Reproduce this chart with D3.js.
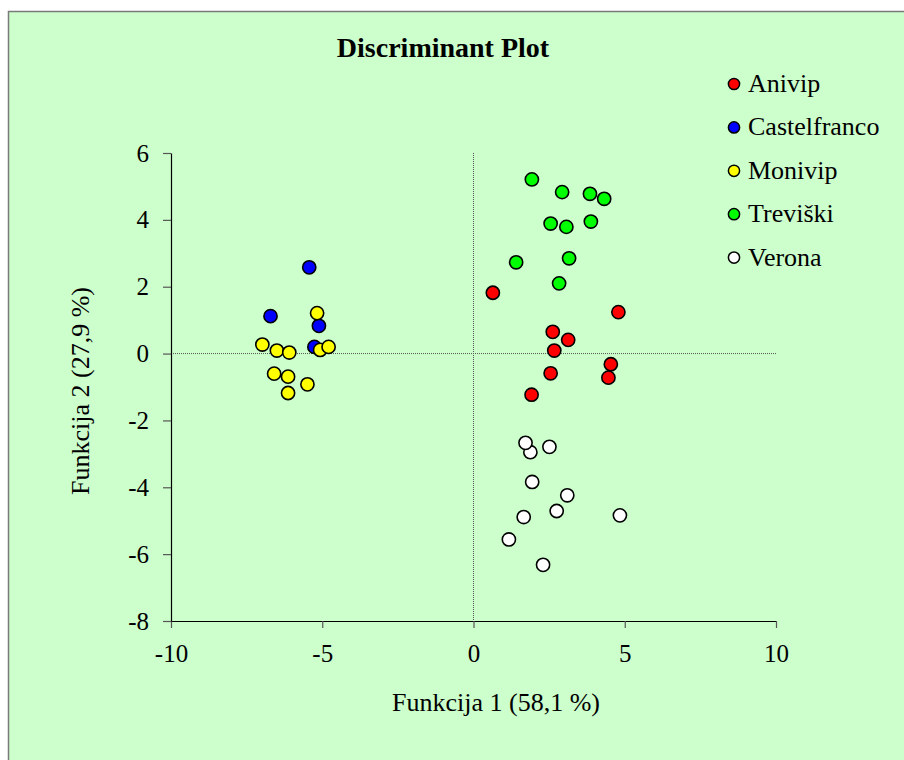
<!DOCTYPE html>
<html>
<head>
<meta charset="utf-8">
<script src="https://cdn.jsdelivr.net/npm/d3@7"></script>
<style>
  body { margin: 0; background: #fff; }
  svg text { font-family: "Liberation Serif", "Times New Roman", serif; fill: #000; }
</style>
</head>
<body>
<div id="chart"></div>
<script>
// discriminant scores, one array per group
var anivip = [[0.64, 1.82], [4.79, 1.24], [2.62, 0.65], [3.13, 0.41], [2.67, 0.09],
              [4.54, -0.32], [2.55, -0.59], [4.46, -0.72], [1.92, -1.23]];
var castelfranco = [[-5.43, 2.58], [-6.71, 1.12], [-5.11, 0.83], [-5.26, 0.20]];
var monivip = [[-5.17, 1.21], [-6.98, 0.27], [-6.50, 0.09], [-6.09, 0.03], [-5.07, 0.11],
               [-4.79, 0.20], [-6.59, -0.60], [-6.13, -0.69], [-5.49, -0.92], [-6.13, -1.18]];
var treviski = [[1.93, 5.21], [2.93, 4.83], [3.85, 4.78], [4.32, 4.63], [2.55, 3.89],
                [3.07, 3.79], [3.88, 3.95], [1.41, 2.73], [3.16, 2.85], [2.83, 2.10]];
var verona = [[1.88, -2.95], [1.72, -2.67], [2.51, -2.79], [1.94, -3.84], [3.10, -4.24],
              [2.75, -4.71], [1.66, -4.89], [4.84, -4.84], [1.17, -5.56], [2.30, -6.32]];

var groupNames = ['Anivip', 'Castelfranco', 'Monivip', 'Treviški', 'Verona'];
var groupColors = ['#ff0000', '#0000ff', '#ffff00', '#00ff00', '#ffffff'];
var groupData = [anivip, castelfranco, monivip, treviski, verona];

var xTicks = [-10, -5, 0, 5, 10];
var yTicks = [-8, -6, -4, -2, 0, 2, 4, 6];

var width = 904, height = 760;

var svg = d3.select('#chart')
            .append('svg')
            .attr('width', width)
            .attr('height', height);

// chart area frame
svg.append('rect')
    .attr('x', 8.5)
    .attr('y', 11.5)
    .attr('width', width)
    .attr('height', height)
    .style('fill', '#ccffcc')
    .style('stroke', '#7a7a7a')
    .style('stroke-width', 1.5);

var x = d3.scaleLinear().domain([-10, 10]).range([171, 776]);
var y = d3.scaleLinear().domain([-8, 6]).range([621, 153]);

// dotted zero lines
svg.append('line')
    .attr('x1', x(0)).attr('x2', x(0))
    .attr('y1', y(6)).attr('y2', y(-8))
    .style('stroke', '#555')
    .style('stroke-width', 1)
    .style('stroke-dasharray', '1,1');

svg.append('line')
    .attr('x1', x(-10)).attr('x2', x(10))
    .attr('y1', y(0)).attr('y2', y(0))
    .style('stroke', '#555')
    .style('stroke-width', 1)
    .style('stroke-dasharray', '1,1');

// plain hyphen minus like the original, not the unicode minus d3 uses
var plain = function(d) { return String(d); };

var xAxis = d3.axisBottom(x)
    .tickValues(xTicks)
    .tickFormat(plain)
    .tickSizeInner(7)
    .tickSizeOuter(0)
    .tickPadding(16);

var yAxis = d3.axisLeft(y)
    .tickValues(yTicks)
    .tickFormat(plain)
    .tickSizeInner(8)
    .tickSizeOuter(0)
    .tickPadding(14);

var gx = svg.append('g')
    .attr('transform', 'translate(0,' + y(-8) + ')')
    .call(xAxis);

var gy = svg.append('g')
    .attr('transform', 'translate(' + x(-10) + ',0)')
    .call(yAxis);

[gx, gy].forEach(function(g) {
    g.select('.domain').style('stroke', '#000').style('stroke-width', 1.2);
    g.selectAll('.tick line').style('stroke', '#555').style('stroke-width', 1.2);
    g.selectAll('.tick text')
        .style('font-family', '"Liberation Serif", "Times New Roman", serif')
        .style('font-size', '25px')
        .style('fill', '#000');
});

// titles
svg.append('text')
    .attr('x', 443)
    .attr('y', 57)
    .attr('text-anchor', 'middle')
    .style('font-size', '28px')
    .style('font-weight', 'bold')
    .text('Discriminant Plot');

svg.append('text')
    .attr('x', 496)
    .attr('y', 711)
    .attr('text-anchor', 'middle')
    .style('font-size', '26px')
    .text('Funkcija 1 (58,1 %)');

svg.append('text')
    .attr('transform', 'translate(89,391) rotate(-90)')
    .attr('text-anchor', 'middle')
    .style('font-size', '26px')
    .text('Funkcija 2 (27,9 %)');

// points, one group per series
groupData.forEach(function(data, gi) {
    svg.append('g')
        .selectAll('circle')
        .data(data)
        .enter()
        .append('circle')
        .attr('cx', function(d) { return x(d[0]); })
        .attr('cy', function(d) { return y(d[1]); })
        .attr('r', 6.6)
        .style('fill', groupColors[gi])
        .style('stroke', '#000')
        .style('stroke-width', 1.6);
});

// legend
var legend = svg.append('g')
    .selectAll('g')
    .data(groupNames)
    .enter()
    .append('g')
    .attr('transform', function(d, i) { return 'translate(734,' + (84 + i * 43.4) + ')'; });

legend.append('circle')
    .attr('r', 5.6)
    .style('fill', function(d, i) { return groupColors[i]; })
    .style('stroke', '#000')
    .style('stroke-width', 1.5);

legend.append('text')
    .attr('x', 14)
    .attr('y', 8)
    .style('font-size', '26px')
    .text(function(d) { return d; });
</script>
</body>
</html>
